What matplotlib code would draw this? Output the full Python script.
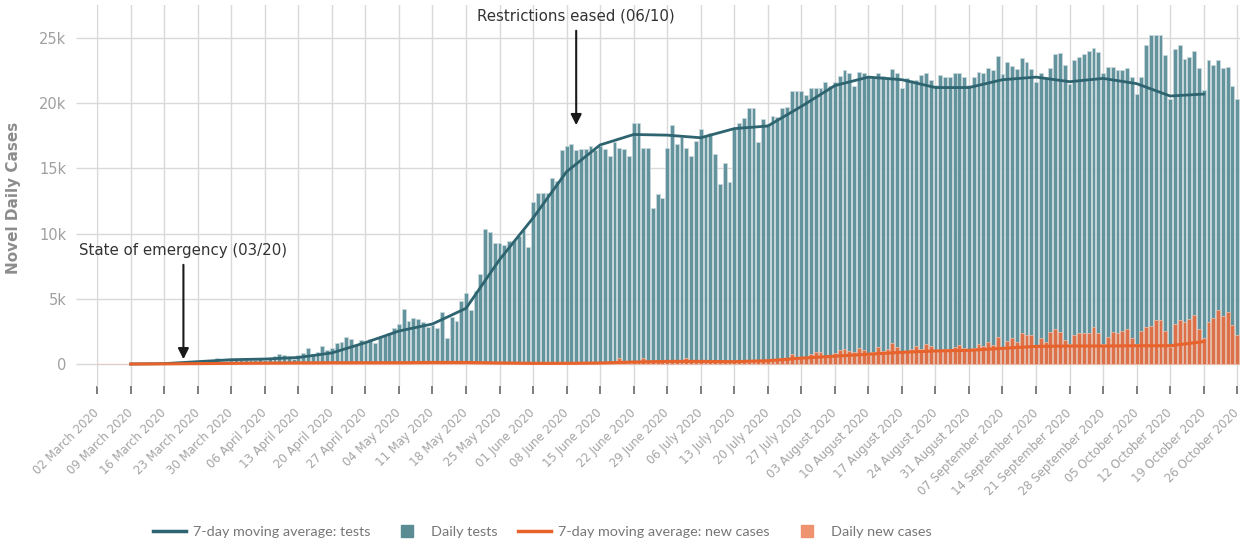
import numpy as np
import pandas as pd
import matplotlib
matplotlib.use('Agg')
import matplotlib.pyplot as plt
from matplotlib.lines import Line2D
from matplotlib.ticker import FuncFormatter

# daily values (thousands), 02 March 2020 .. 26 October 2020, one row per week (Mon..Sun)
tests_k = [
    0, 0, 0, 0, 0, 0, 0,
    0.02, 0.02, 0.03, 0.03, 0.04, 0.04, 0.05,
    0.06, 0.07, 0.08, 0.09, 0.10, 0.12, 0.12,
    0.15, 0.18, 0.20, 0.22, 0.48, 0.20, 0.25,
    0.30, 0.32, 0.30, 0.32, 0.30, 0.30, 0.44,
    0.32, 0.35, 0.60, 0.80, 0.68, 0.60, 0.35,
    0.70, 0.86, 1.25, 0.75, 0.90, 1.40, 1.10,
    1.20, 1.58, 1.71, 2.05, 1.90, 1.45, 1.85,
    1.77, 1.90, 1.58, 2.05, 2.15, 2.35, 2.73,
    3.07, 4.20, 3.30, 3.50, 3.43, 3.25, 2.87,
    3.00, 2.75, 3.96, 1.97, 3.63, 3.33, 4.86,
    5.47, 4.15, 5.62, 6.90, 10.33, 10.10, 9.25,
    9.25, 9.10, 9.40, 9.45, 9.85, 10.25, 9.00,
    12.4, 13.1, 13.1, 13.1, 14.3, 14.0, 16.4,
    16.7, 16.85, 16.4, 16.5, 16.5, 16.7, 16.4,
    16.7, 16.45, 15.95, 17.05, 16.6, 16.45, 15.95,
    18.45, 18.45, 16.6, 16.6, 12.0, 13.0, 12.7,
    16.6, 18.3, 16.9, 17.4, 16.6, 15.95, 17.1,
    18.05, 17.55, 17.75, 16.1, 13.8, 15.45, 13.95,
    18.05, 18.45, 18.9, 19.6, 19.6, 17.05, 18.8,
    18.4, 19.0, 18.95, 19.6, 19.7, 20.9, 20.9,
    20.9, 20.6, 21.2, 21.15, 21.15, 21.6, 21.3,
    21.65, 22.1, 22.55, 22.3, 21.3, 22.4, 22.3,
    22.0, 22.0, 22.3, 22.1, 22.0, 22.65, 22.35,
    21.15, 21.9, 21.8, 21.8, 22.2, 22.35, 21.8,
    21.4, 22.2, 22.0, 22.0, 22.3, 22.35, 22.0,
    21.4, 22.0, 22.4, 22.3, 22.7, 22.55, 23.6,
    22.25, 23.15, 22.85, 22.65, 23.45, 23.15, 22.65,
    21.65, 22.3, 22.0, 22.7, 23.8, 23.85, 22.9,
    21.45, 23.3, 23.55, 23.8, 24.0, 24.25, 23.9,
    22.3, 22.8, 22.8, 22.55, 22.55, 22.7, 22.0,
    20.7, 22.0, 24.45, 25.2, 25.2, 25.2, 23.7,
    20.3, 24.15, 24.45, 23.4, 23.55, 24.0, 22.7,
    21.0, 23.35, 22.95, 23.35, 22.7, 22.8, 21.3,
    20.3,
]

cases_k = [
    0, 0, 0, 0, 0, 0, 0,
    0.01, 0.01, 0.01, 0.02, 0.02, 0.02, 0.02,
    0.02, 0.03, 0.03, 0.03, 0.04, 0.04, 0.04,
    0.05, 0.05, 0.06, 0.05, 0.06, 0.05, 0.06,
    0.06, 0.07, 0.07, 0.06, 0.08, 0.07, 0.08,
    0.08, 0.09, 0.10, 0.09, 0.10, 0.08, 0.09,
    0.10, 0.11, 0.10, 0.12, 0.10, 0.11, 0.09,
    0.10, 0.12, 0.11, 0.10, 0.12, 0.11, 0.10,
    0.11, 0.10, 0.12, 0.11, 0.10, 0.12, 0.10,
    0.11, 0.12, 0.10, 0.13, 0.11, 0.12, 0.12,
    0.13, 0.11, 0.12, 0.14, 0.12, 0.13, 0.11,
    0.12, 0.10, 0.11, 0.09, 0.10, 0.08, 0.09,
    0.07, 0.08, 0.06, 0.07, 0.06, 0.05, 0.06,
    0.05, 0.06, 0.04, 0.05, 0.05, 0.04, 0.05,
    0.05, 0.06, 0.05, 0.06, 0.07, 0.06, 0.07,
    0.08, 0.10, 0.09, 0.12, 0.48, 0.12, 0.10,
    0.14, 0.16, 0.43, 0.25, 0.20, 0.18, 0.15,
    0.18, 0.20, 0.22, 0.20, 0.43, 0.20, 0.18,
    0.20, 0.19, 0.20, 0.18, 0.17, 0.19, 0.16,
    0.18, 0.17, 0.20, 0.19, 0.22, 0.20, 0.21,
    0.23, 0.25, 0.28, 0.32, 0.40, 0.74, 0.56,
    0.56, 0.45, 0.77, 0.90, 0.90, 0.56, 0.50,
    0.87, 1.10, 1.15, 1.00, 0.90, 1.20, 1.05,
    0.70, 0.90, 1.30, 1.00, 1.15, 1.60, 1.30,
    0.90, 1.00, 1.15, 1.40, 1.15, 1.50, 1.40,
    1.00, 1.00, 1.15, 1.15, 1.30, 1.45, 1.20,
    1.15, 1.20, 1.55, 1.40, 1.65, 1.45, 2.05,
    1.15, 1.75, 2.00, 1.70, 2.35, 2.20, 2.20,
    1.40, 2.00, 1.70, 2.45, 2.70, 2.45, 1.85,
    1.50, 2.20, 2.35, 2.35, 2.40, 2.80, 2.40,
    1.50, 2.05, 2.45, 2.35, 2.50, 2.65, 2.00,
    1.50, 2.50, 2.80, 2.95, 3.40, 3.40, 2.50,
    1.30, 3.10, 3.35, 3.25, 3.45, 3.75, 2.65,
    2.00, 3.25, 3.55, 4.15, 3.70, 4.00, 3.00,
    2.25,
]

# weekly 7-day moving averages (thousands), 09 March .. 19 October
tests_ma_k = [0.0, 0.03, 0.18, 0.33, 0.38, 0.5, 0.85, 1.64, 2.53, 3.07, 4.27, 8.0,
              11.2, 14.75, 16.8, 17.6, 17.55, 17.35, 18.05, 18.25, 19.75, 21.35,
              22.0, 21.8, 21.2, 21.2, 21.8, 22.0, 21.65, 21.9, 21.5, 20.55, 20.7]
cases_ma_k = [0.0, 0.01, 0.03, 0.05, 0.07, 0.09, 0.1, 0.1, 0.1, 0.12, 0.12, 0.08,
              0.05, 0.05, 0.08, 0.15, 0.2, 0.2, 0.18, 0.25, 0.45, 0.6,
              0.75, 0.9, 1.0, 1.05, 1.2, 1.35, 1.38, 1.38, 1.4, 1.4, 1.72]

days = pd.date_range('2020-03-02', '2020-10-26', freq='D')
weeks = pd.date_range('2020-03-09', '2020-10-19', freq='7D')
ticks = pd.date_range('2020-03-02', '2020-10-26', freq='7D')

tests = np.array(tests_k) * 1000
cases = np.array(cases_k) * 1000
tests_ma = np.array(tests_ma_k) * 1000
cases_ma = np.array(cases_ma_k) * 1000

TEAL_BAR = '#63939c'
TEAL_LINE = '#2d6470'
ORANGE_BAR = '#dc7049'
ORANGE_LINE = '#e8622c'
GRID = '#d9d9d9'

fig = plt.figure(figsize=(12.43, 5.46), dpi=100)
ax = fig.add_axes([97 / 1243, 1 - 386 / 546, 1143 / 1243, 381 / 546])

ax.bar(days, tests, width=0.8, color=TEAL_BAR, edgecolor='#cddcdf', linewidth=0.5, zorder=2)
ax.bar(days, cases, width=0.8, color=ORANGE_BAR, edgecolor='#f1c2ae', linewidth=0.5, zorder=3)
ax.plot(weeks, tests_ma, color=TEAL_LINE, lw=2, zorder=4)
ax.plot(weeks, cases_ma, color=ORANGE_LINE, lw=2.2, zorder=5)

ax.set_xlim(days[0] - pd.Timedelta(hours=1), days[-1] + pd.Timedelta(hours=14))
ax.set_ylim(-1687, 27530)
ax.set_yticks([0, 5000, 10000, 15000, 20000, 25000])
ax.yaxis.set_major_formatter(FuncFormatter(lambda v, p: '0' if v == 0 else '%dk' % (v / 1000)))
ax.set_xticks(ticks)
ax.set_xticklabels([d.strftime('%d %B %Y') for d in ticks], rotation=45, ha='right', va='center',
                   rotation_mode='anchor', fontsize=8.4, color='#a3a3a3')
ax.tick_params(axis='x', length=6, width=1.2, color='#666666', pad=12)
ax.tick_params(axis='y', length=15, width=1, color=GRID, labelsize=10.5, labelcolor='#a0a0a0', pad=7)

ax.grid(True, color=GRID, lw=1, zorder=0)
ax.set_axisbelow(True)
for s in ['top', 'right', 'bottom']:
    ax.spines[s].set_visible(False)
ax.spines['left'].set_color(GRID)

fig.text(14 / 1243, 1 - 198 / 546, 'Novel Daily Cases', rotation=90, ha='center', va='center',
         fontsize=11, fontweight='bold', color='#8c8c8c')

# annotations
emerg = pd.Timestamp('2020-03-20')
eased = pd.Timestamp('2020-06-10')
ax.annotate('', xy=(emerg, 150), xytext=(emerg, 7820),
            arrowprops=dict(arrowstyle='-|>', color='#1a1a1a', lw=1.5, mutation_scale=16), zorder=6)
ax.text(emerg, 8740, 'State of emergency (03/20)', ha='center', va='center', fontsize=10.8, color='#333333', zorder=6)
ax.annotate('', xy=(eased, 18100), xytext=(eased, 25770),
            arrowprops=dict(arrowstyle='-|>', color='#1a1a1a', lw=1.5, mutation_scale=16), zorder=6)
ax.text(eased, 26700, 'Restrictions eased (06/10)', ha='center', va='center', fontsize=10.8, color='#333333', zorder=6)

handles = [
    Line2D([], [], color=TEAL_LINE, lw=2.5),
    Line2D([], [], color='#5b8c94', marker='s', ls='none', markersize=9),
    Line2D([], [], color=ORANGE_LINE, lw=2.5),
    Line2D([], [], color='#ee9270', marker='s', ls='none', markersize=9),
]
labels = ['7-day moving average: tests', 'Daily tests', '7-day moving average: new cases', 'Daily new cases']
fig.legend(handles, labels, loc='center', bbox_to_anchor=(542 / 1243, 1 - 532 / 546), ncol=4,
           frameon=False, prop={'family': 'Lato', 'size': 10.4}, labelcolor='#777777',
           handlelength=2.3, handletextpad=0.5, columnspacing=1.4)

fig.savefig('out.png', dpi=100)
